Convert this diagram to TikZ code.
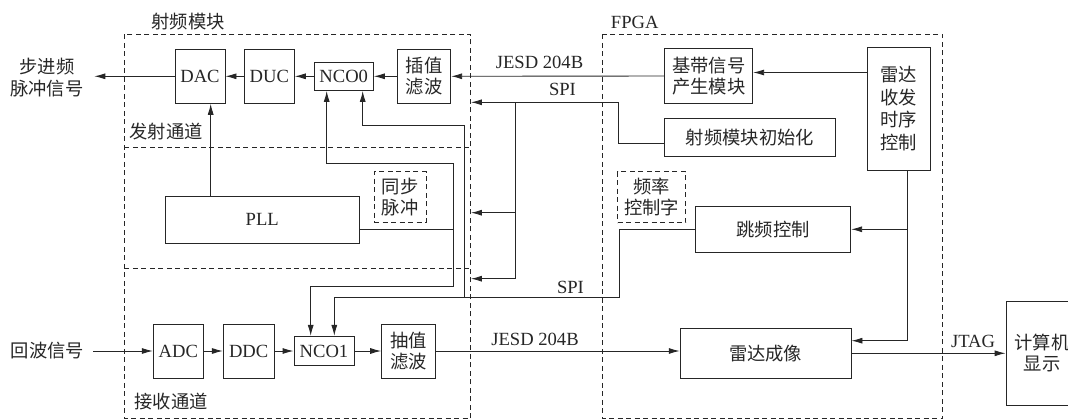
\documentclass[tikz,border=0pt]{standalone}
\usepackage{fontspec}
\setmainfont{Liberation Serif}
\newfontfamily\cjk{Noto Sans CJK SC}
\usetikzlibrary{arrows.meta}
\begin{document}
\begin{tikzpicture}[x=1pt,y=-1pt,
  line width=0.9pt,
  every node/.style={font=\fontsize{18.6}{22}\selectfont, inner sep=0pt, align=center, text=black!85},
  cn/.style={font=\cjk\fontsize{18.3}{21.5}\selectfont},
  box/.style={draw=black!85, line width=0.9pt},
  dbox/.style={draw=black!85, line width=0.9pt, dash pattern=on 5pt off 3.5pt},
  wire/.style={draw=black!85, line width=0.9pt},
  arr/.style={wire, -{Latex[length=11pt,width=6pt]}},
  frame/.style={draw=black!85, line width=0.9pt, dash pattern=on 5pt off 3.5pt}
]
\useasboundingbox (0,0) rectangle (1068,420);
\clip (0,0) rectangle (1068,420);

% dashed frames
\draw[frame] (124.3,34.3) rectangle (470.9,418.5);
\draw[frame] (124.3,147.5) -- (470.9,147.5);
\draw[frame] (124.3,268) -- (470.9,268);
\draw[frame] (602.3,34.3) rectangle (942.7,418.5);

% frame labels
\node[cn] (lrf) at (188,22) {射频模块};
\node (lfpga) at (634.7,22) {FPGA};
\node[cn] (ltx) at (166,132) {发射通道};
\node[cn] (lrx) at (171,402) {接收通道};

% TX chain
\node[box, minimum width=50pt, minimum height=54pt] (dac) at (200,76.3) {DAC};
\node[box, minimum width=50pt, minimum height=54pt] (duc) at (269.3,76.3) {DUC};
\node[box, minimum width=59.3pt, minimum height=28.3pt] (nco0) at (343.7,76.3) {NCO0};
\node[box, cn, minimum width=53.4pt, minimum height=54pt] (chazhi) at (424,76.3) {插值\\滤波};
\node[cn] (lstep) at (47,77.5) {步进频\\脉冲信号};
\coordinate (stepend) at (94.3,76.3);

% PLL
\node[box, minimum width=194.3pt, minimum height=47pt] (pll) at (262.2,219.5) {PLL};
\node[dbox, cn, minimum width=52pt, minimum height=50.6pt] (sync) at (400,197) {同步\\脉冲};

% RX chain
\node[cn] (lecho) at (47.5,351) {回波信号};
\coordinate (echostart) at (93.3,351);
\node[box, minimum width=50pt, minimum height=54pt] (adc) at (178.3,351) {ADC};
\node[box, minimum width=50.7pt, minimum height=54pt] (ddc) at (248.7,351) {DDC};
\node[box, minimum width=60pt, minimum height=29.3pt] (nco1) at (324,351) {NCO1};
\node[box, cn, minimum width=53.3pt, minimum height=54pt] (chouzhi) at (408.3,351) {抽值\\滤波};

% FPGA blocks
\node[box, cn, minimum width=88pt, minimum height=54.4pt] (jidai) at (708.7,76) {基带信号\\产生模块};
\node[box, cn, minimum width=63pt, minimum height=122.7pt, font=\cjk\fontsize{18.3}{22.7}\selectfont] (ctl) at (898.5,108.7) {雷达\\收发\\时序\\控制};
\node[box, cn, minimum width=170.6pt, minimum height=37.7pt] (init) at (750,137.2) {射频模块初始化};
\node[dbox, cn, minimum width=68pt, minimum height=51pt] (fword) at (651.7,197.2) {频率\\控制字};
\node[box, cn, minimum width=155.4pt, minimum height=46.7pt] (tiaopin) at (773,229.3) {跳频控制};
\node[box, cn, minimum width=170.8pt, minimum height=50pt] (imaging) at (765.6,353.3) {雷达成像};
\node[box, cn, minimum width=72pt, minimum height=104pt] (pc) at (1042,353) {计算机\\显示};

% link labels
\node (ljesd1) at (539.5,62.3) {JESD 204B};
\node (lspi1) at (562.5,89.3) {SPI};
\node (lspi2) at (570.5,287) {SPI};
\node (ljesd2) at (535,339) {JESD 204B};
\node (ljtag) at (973,341) {JTAG};

% TX chain connectors
\draw[arr] (chazhi.west) -- (nco0.east);
\draw[arr] (nco0.west) -- (duc.east);
\draw[arr] (duc.west) -- (dac.east);
\draw[arr] (dac.west) -- (stepend);
\draw[arr] (jidai.west) -- (chazhi.east);
\draw[arr] (ctl.west |- 0,72.5) -- (jidai.east |- 0,72.5);

% SPI from init
\coordinate (spiA) at (470.9,102.3);
\coordinate (spiB) at (470.9,212.7);
\coordinate (spiC) at (470.9,278.7);
\draw[arr] (init.west |- 0,143.3) -- (618.2,143.3) -- (618.2,102.3) -- (spiA);
\draw[wire] (515.4,102.3) -- (515.4,278.7);
\draw[arr] (515.4,212.7) -- (spiB);
\draw[arr] (515.4,278.7) -- (spiC);

% PLL to DAC
\draw[arr] (pll.north -| 210.7,0) -- (dac.south -| 210.7,0);

% sync pulse
\draw[wire] (pll.east |- 0,229.3) -- (453.3,229.3);
\draw[wire] (453.3,163.3) -- (453.3,286.7);
\draw[arr] (453.3,163.3) -- (326.7,163.3) -- (nco0.south -| 326.7,0);
\draw[arr] (453.3,286.7) -- (310.7,286.7) -- (nco1.north -| 310.7,0);

% frequency control word
\draw[arr] (tiaopin.west) -- (619.8,229.3) -- (619.8,297.7) -- (334.3,297.7) -- (nco1.north -| 334.3,0);
\draw[arr] (464.3,297.7) -- (464.3,125.3) -- (362.7,125.3) -- (nco0.south -| 362.7,0);

% timing control
\draw[arr] (ctl.south -| 907,0) -- (907,340.7) -- (imaging.east |- 0,340.7);
\draw[arr] (907,229.3) -- (tiaopin.east);

% RX chain connectors
\draw[arr] (echostart) -- (adc.west);
\draw[arr] (adc.east) -- (ddc.west);
\draw[arr] (ddc.east) -- (nco1.west);
\draw[arr] (nco1.east) -- (chouzhi.west);
\draw[arr] (chouzhi.east) -- (chouzhi.east -| imaging.west);
\draw[arr] (imaging.east) -- (pc.west |- imaging.east);
\end{tikzpicture}
\end{document}
